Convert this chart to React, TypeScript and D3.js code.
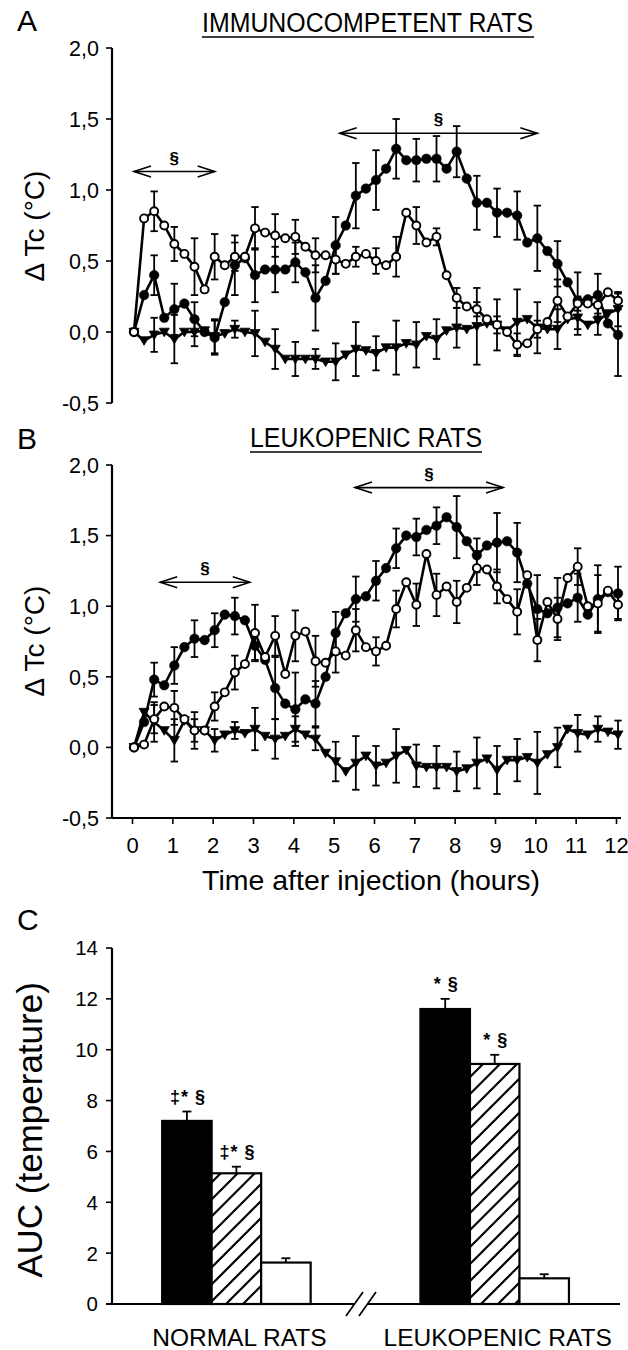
import React from "react";
import * as d3 from "d3";

// ---------------- DATA ----------------
const TIME = [0, 0.25, 0.5, 0.75, 1, 1.25, 1.5, 1.75, 2, 2.25, 2.5, 2.75, 3, 3.25, 3.5, 3.75, 4, 4.25, 4.5, 4.75, 5, 5.25, 5.5, 5.75, 6, 6.25, 6.5, 6.75, 7, 7.25, 7.5, 7.75, 8, 8.25, 8.5, 8.75, 9, 9.25, 9.5, 9.75, 10, 10.25, 10.5, 10.75, 11, 11.25, 11.5, 11.75, 12];

// Panel A – immunocompetent rats
const A_FILLED = [0.00, 0.26, 0.40, 0.10, 0.16, 0.20, 0.09, 0.00, -0.04, 0.21, 0.47, 0.52, 0.40, 0.44, 0.44, 0.44, 0.49, 0.42, 0.24, 0.36, 0.61, 0.75, 0.96, 1.01, 1.07, 1.15, 1.29, 1.21, 1.21, 1.22, 1.22, 1.15, 1.27, 1.08, 0.91, 0.91, 0.84, 0.84, 0.82, 0.63, 0.66, 0.57, 0.48, 0.35, 0.22, 0.23, 0.26, 0.06, -0.02];
const A_FILLED_ERR = [0, 0, 0.14, 0, 0.18, 0, 0.12, 0, 0.12, 0, 0.21, 0, 0.19, 0, 0.16, 0, 0.14, 0, 0.23, 0, 0.20, 0, 0.23, 0, 0.21, 0, 0.21, 0, 0.15, 0, 0.16, 0, 0.18, 0, 0.19, 0, 0.17, 0, 0.17, 0, 0.23, 0, 0.16, 0, 0.20, 0, 0.15, 0, 0.29];
const A_OPEN = [0.00, 0.80, 0.85, 0.75, 0.62, 0.55, 0.46, 0.30, 0.53, 0.47, 0.53, 0.53, 0.73, 0.70, 0.68, 0.66, 0.67, 0.60, 0.54, 0.54, 0.51, 0.48, 0.53, 0.55, 0.50, 0.47, 0.53, 0.84, 0.75, 0.63, 0.67, 0.40, 0.24, 0.18, 0.16, 0.09, 0.05, 0.00, -0.09, -0.08, 0.02, 0.07, 0.22, 0.11, 0.20, 0.20, 0.19, 0.28, 0.22];
const A_OPEN_ERR = [0, 0, 0.14, 0, 0.12, 0, 0.20, 0, 0.16, 0, 0.10, 0, 0.15, 0, 0.15, 0, 0.12, 0, 0.12, 0, 0.10, 0, 0.07, 0, 0.09, 0, 0.14, 0, 0.13, 0, 0.06, 0, 0.07, 0, 0.05, 0, 0.06, 0, 0.08, 0, 0.06, 0, 0.15, 0, 0.05, 0, 0.06, 0, 0.06];
const A_TRI = [0.00, -0.06, -0.02, 0.00, -0.05, 0.00, 0.00, 0.01, -0.03, -0.01, 0.02, 0.00, -0.01, -0.07, -0.12, -0.19, -0.19, -0.19, -0.19, -0.21, -0.21, -0.16, -0.12, -0.13, -0.15, -0.11, -0.11, -0.08, -0.09, -0.03, -0.05, 0.01, 0.03, 0.02, 0.04, 0.06, 0.05, 0.01, 0.07, 0.09, 0.03, 0.02, 0.02, 0.09, 0.10, 0.05, 0.08, 0.13, 0.16];
const A_TRI_ERR = [0, 0, 0.12, 0, 0.17, 0, 0.10, 0, 0.12, 0, 0.06, 0, 0.16, 0, 0.14, 0, 0.12, 0, 0.07, 0, 0.13, 0, 0.19, 0, 0.12, 0, 0.19, 0, 0.16, 0, 0.14, 0, 0.14, 0, 0.27, 0, 0.18, 0, 0.23, 0, 0.18, 0, 0.14, 0, 0.12, 0, 0.10, 0, 0.12];

// Panel B – leukopenic rats
const B_FILLED = [0.00, 0.18, 0.48, 0.44, 0.58, 0.71, 0.77, 0.76, 0.83, 0.94, 0.93, 0.90, 0.72, 0.62, 0.42, 0.31, 0.27, 0.34, 0.31, 0.50, 0.81, 0.95, 1.05, 1.07, 1.18, 1.27, 1.41, 1.50, 1.49, 1.54, 1.57, 1.63, 1.56, 1.46, 1.36, 1.43, 1.45, 1.46, 1.38, 1.16, 0.98, 0.95, 0.99, 1.02, 1.06, 0.94, 1.05, 1.10, 1.09];
const B_FILLED_ERR = [0, 0, 0.12, 0, 0.13, 0, 0.13, 0, 0.12, 0, 0.13, 0, 0.10, 0, 0.22, 0, 0.26, 0, 0.16, 0, 0.15, 0, 0.16, 0, 0.14, 0, 0.14, 0, 0.13, 0, 0.13, 0, 0.22, 0, 0.12, 0, 0.21, 0, 0.21, 0, 0.24, 0, 0.21, 0, 0.17, 0, 0.24, 0, 0.19];
const B_OPEN = [0.00, 0.02, 0.20, 0.29, 0.28, 0.20, 0.12, 0.12, 0.29, 0.39, 0.53, 0.59, 0.81, 0.64, 0.79, 0.52, 0.79, 0.82, 0.61, 0.60, 0.68, 0.65, 0.83, 0.71, 0.68, 0.72, 0.98, 1.17, 1.01, 1.37, 1.08, 1.14, 1.03, 1.13, 1.27, 1.26, 1.14, 1.05, 0.96, 1.22, 0.76, 1.03, 0.91, 1.20, 1.28, 1.00, 1.02, 1.11, 1.01];
const B_OPEN_ERR = [0, 0, 0.10, 0, 0.12, 0, 0.08, 0, 0.10, 0, 0.12, 0, 0.20, 0, 0.14, 0, 0.18, 0, 0.18, 0, 0.15, 0, 0.15, 0, 0.10, 0, 0.13, 0, 0.15, 0, 0.15, 0, 0.15, 0, 0.12, 0, 0.12, 0, 0.16, 0, 0.15, 0, 0.15, 0, 0.13, 0, 0.20, 0, 0.10];
const B_TRI = [0.00, 0.25, 0.18, 0.12, 0.05, 0.19, 0.12, 0.12, 0.05, 0.09, 0.12, 0.10, 0.13, 0.08, 0.06, 0.08, 0.13, 0.09, 0.06, -0.04, -0.10, -0.17, -0.11, -0.06, -0.13, -0.11, -0.06, -0.02, -0.13, -0.14, -0.14, -0.14, -0.17, -0.15, -0.11, -0.08, -0.16, -0.09, -0.09, -0.07, -0.11, -0.05, 0.00, 0.13, 0.10, 0.09, 0.13, 0.11, 0.09];
const B_TRI_ERR = [0, 0, 0.14, 0, 0.15, 0, 0.13, 0, 0.08, 0, 0.06, 0, 0.15, 0, 0.14, 0, 0.09, 0, 0.08, 0, 0.14, 0, 0.19, 0, 0.14, 0, 0.19, 0, 0.15, 0, 0.15, 0, 0.14, 0, 0.18, 0, 0.17, 0, 0.15, 0, 0.22, 0, 0.14, 0, 0.13, 0, 0.09, 0, 0.10];

// significance arrows: [from hour, to hour, level]
const ARROWS_A = [[0, 2.0, 1.13], [5.1, 10.0, 1.40]];
const ARROWS_B = [[0.65, 2.87, 1.17], [5.48, 9.15, 1.84]];

const Y_TICKS = [-0.5, 0, 0.5, 1.0, 1.5, 2.0];
const X_TICKS = [0, 1, 2, 3, 4, 5, 6, 7, 8, 9, 10, 11, 12];

// Panel C – AUC
const GROUPS = ["NORMAL RATS", "LEUKOPENIC RATS"];
const BAR_KINDS = ["black", "hatch", "white"];
const AUC_BLACK = [7.2, 11.6];
const AUC_BLACK_ERR = [0.37, 0.4];
const AUC_HATCH = [5.14, 9.44];
const AUC_HATCH_ERR = [0.26, 0.36];
const AUC_WHITE = [1.63, 1.01];
const AUC_WHITE_ERR = [0.17, 0.16];
const ANNOT_BLACK = ["‡* §", "* §"];
const ANNOT_HATCH = ["‡* §", "* §"];
const C_TICKS = [0, 2, 4, 6, 8, 10, 12, 14];

// ---------------- LAYOUT ----------------
const W = 628;
const H = 1350;
const FONT = "'Liberation Sans', Arial, Helvetica, sans-serif";
const AXIS_X = 112;

const x = d3.scaleLinear().domain([0, 12]).range([134, 618]);
const yA = d3.scaleLinear().domain([-0.5, 2]).range([403, 48]);
const yB = d3.scaleLinear().domain([-0.5, 2]).range([818, 465]);
const yC = d3.scaleLinear().domain([0, 14]).range([1304, 948]);
const groupX = d3.scalePoint<string>().domain(GROUPS).range([236.4, 494.7]);
const subX = d3.scaleBand<string>().domain(BAR_KINDS).range([-74.25, 74.25]);

const fmt = (v: number) => d3.format(".1f")(v).replace(".", ",").replace("\u2212", "-");

type Kind = "filled" | "open" | "tri";

function Series({ vals, errs, y, kind }: { vals: number[]; errs: number[]; y: d3.ScaleLinear<number, number>; kind: Kind }) {
  const line = d3
    .line<number>()
    .x((_, i) => x(TIME[i]))
    .y((v) => y(v));
  const tri = "M-5,-3.8 L5,-3.8 L0,4.8 Z";
  return (
    <g>
      {vals.map((v, i) =>
        errs[i] > 0 ? (
          <g key={"e" + i} stroke="#000" strokeWidth={1.8}>
            <line x1={x(TIME[i])} x2={x(TIME[i])} y1={y(v - errs[i])} y2={y(v + errs[i])} />
            <line x1={x(TIME[i]) - 3.7} x2={x(TIME[i]) + 3.7} y1={y(v + errs[i])} y2={y(v + errs[i])} />
            <line x1={x(TIME[i]) - 3.7} x2={x(TIME[i]) + 3.7} y1={y(v - errs[i])} y2={y(v - errs[i])} />
          </g>
        ) : null
      )}
      <path d={line(vals) || ""} fill="none" stroke="#000" strokeWidth={2.6} strokeLinejoin="round" />
      {vals.map((v, i) =>
        kind === "tri" ? (
          <path key={"m" + i} d={tri} transform={`translate(${x(TIME[i])},${y(v)})`} fill="#000" stroke="#000" strokeWidth={0.8} />
        ) : (
          <circle
            key={"m" + i}
            cx={x(TIME[i])}
            cy={y(v)}
            r={kind === "filled" ? 4.8 : 4.0}
            fill={kind === "filled" ? "#000" : "#fff"}
            stroke="#000"
            strokeWidth={kind === "filled" ? 0.5 : 1.9}
          />
        )
      )}
    </g>
  );
}

function Arrow({ a, y }: { a: number[]; y: d3.ScaleLinear<number, number> }) {
  const x1 = x(a[0]);
  const x2 = x(a[1]);
  const yy = y(a[2]);
  const hl = 17;
  const hw = 5.5;
  return (
    <g stroke="#000" strokeWidth={1.6} fill="none">
      <line x1={x1} x2={x2} y1={yy} y2={yy} />
      <path d={`M${x1 + hl},${yy - hw} L${x1},${yy} L${x1 + hl},${yy + hw}`} />
      <path d={`M${x2 - hl},${yy - hw} L${x2},${yy} L${x2 - hl},${yy + hw}`} />
      <text x={(x1 + x2) / 2} y={yy - 8} textAnchor="middle" fontSize={17} fontWeight="bold" fill="#000" stroke="none" fontFamily={FONT}>
        §
      </text>
    </g>
  );
}

function YAxis({ y, ticks, top, bottom, format }: { y: d3.ScaleLinear<number, number>; ticks: number[]; top: number; bottom: number; format: (v: number) => string }) {
  return (
    <g>
      <line x1={AXIS_X} x2={AXIS_X} y1={top} y2={bottom} stroke="#000" strokeWidth={2.2} />
      {ticks.map((t) => (
        <g key={t}>
          <line x1={AXIS_X - 6} x2={AXIS_X} y1={y(t)} y2={y(t)} stroke="#000" strokeWidth={1.6} />
          <text x={AXIS_X - 13} y={y(t)} dy="0.36em" textAnchor="end" fontSize={21.5} fontFamily={FONT}>
            {format(t)}
          </text>
        </g>
      ))}
    </g>
  );
}

function TimePanel({ y, filled, filledErr, open, openErr, tri, triErr, arrows }: any) {
  return (
    <g>
      <YAxis y={y} ticks={Y_TICKS} top={y(2)} bottom={y(-0.5)} format={fmt} />
      {arrows.map((a: number[], i: number) => (
        <Arrow key={i} a={a} y={y} />
      ))}
      <Series vals={tri} errs={triErr} y={y} kind="tri" />
      <Series vals={filled} errs={filledErr} y={y} kind="filled" />
      <Series vals={open} errs={openErr} y={y} kind="open" />
    </g>
  );
}

function BarPanel() {
  const series = [
    { kind: "black", vals: AUC_BLACK, errs: AUC_BLACK_ERR, annot: ANNOT_BLACK },
    { kind: "hatch", vals: AUC_HATCH, errs: AUC_HATCH_ERR, annot: ANNOT_HATCH },
    { kind: "white", vals: AUC_WHITE, errs: AUC_WHITE_ERR, annot: null as string[] | null },
  ];
  const bw = subX.bandwidth();
  const y0 = yC(0);
  return (
    <g>
      <defs>
        <pattern id="hatch" patternUnits="userSpaceOnUse" width={17} height={17}>
          <rect width={17} height={17} fill="#fff" />
          <path d="M0,17 L17,0 M-5,5 L5,-5 M12,22 L22,12" stroke="#000" strokeWidth={2.2} />
        </pattern>
      </defs>
      {/* y axis */}
      <line x1={AXIS_X} x2={AXIS_X} y1={yC(14)} y2={y0} stroke="#000" strokeWidth={2.2} />
      {C_TICKS.map((t) => (
        <g key={t}>
          <line x1={AXIS_X - 6} x2={AXIS_X} y1={yC(t)} y2={yC(t)} stroke="#000" strokeWidth={1.6} />
          <text x={AXIS_X - 14} y={yC(t)} dy="0.36em" textAnchor="end" fontSize={20.5} fontFamily={FONT}>
            {t}
          </text>
        </g>
      ))}
      {/* bars */}
      {GROUPS.map((g, gi) =>
        series.map((s) => {
          const bx = (groupX(g) as number) + (subX(s.kind) as number);
          const top = yC(s.vals[gi]);
          const et = yC(s.vals[gi] + s.errs[gi]);
          const cx = bx + bw / 2;
          return (
            <g key={g + s.kind}>
              <line x1={cx} x2={cx} y1={top} y2={et} stroke="#000" strokeWidth={1.8} />
              <line x1={cx - 4.5} x2={cx + 4.5} y1={et} y2={et} stroke="#000" strokeWidth={1.8} />
              <rect
                x={bx}
                y={top}
                width={bw}
                height={y0 - top}
                fill={s.kind === "black" ? "#000" : s.kind === "hatch" ? "url(#hatch)" : "#fff"}
                stroke="#000"
                strokeWidth={2.2}
              />
              {s.annot ? (
                <text x={cx + 1} y={et - 9} textAnchor="middle" fontSize={18} fontWeight="bold" letterSpacing={1} fontFamily={FONT}>
                  {s.annot[gi]}
                </text>
              ) : null}
            </g>
          );
        })
      )}
      {/* broken baseline */}
      <line x1={AXIS_X - 6} x2={355} y1={y0} y2={y0} stroke="#000" strokeWidth={2.2} />
      <line x1={367} x2={620} y1={y0} y2={y0} stroke="#000" strokeWidth={2.2} />
      <line x1={346} x2={363} y1={y0 + 12} y2={y0 - 12} stroke="#000" strokeWidth={1.7} />
      <line x1={359} x2={376} y1={y0 + 12} y2={y0 - 12} stroke="#000" strokeWidth={1.7} />
      {GROUPS.map((g) => (
        <text key={g} x={(groupX(g) as number) + 3} y={1346} textAnchor="middle" fontSize={24.5} fontFamily={FONT}>
          {g}
        </text>
      ))}
    </g>
  );
}

export default function App() {
  return (
    <div style={{ position: "absolute", left: 0, top: 0, width: W, height: H, background: "#fff" }}>
      <svg width={W} height={H} viewBox={`0 0 ${W} ${H}`} style={{ display: "block" }} fontFamily={FONT}>
        <rect width={W} height={H} fill="#fff" />
        {/* Panel A */}
        <text x={17} y={31} fontSize={30}>A</text>
        <text x={202} y={32} fontSize={27} textLength={331} lengthAdjust="spacingAndGlyphs">IMMUNOCOMPETENT RATS</text>
        <line x1={202} x2={534} y1={37} y2={37} stroke="#000" strokeWidth={1.6} />
        <text transform="translate(44,226) rotate(-90)" textAnchor="middle" fontSize={28}>Δ Tc (°C)</text>
        <TimePanel y={yA} filled={A_FILLED} filledErr={A_FILLED_ERR} open={A_OPEN} openErr={A_OPEN_ERR} tri={A_TRI} triErr={A_TRI_ERR} arrows={ARROWS_A} />

        {/* Panel B */}
        <text x={17} y={449} fontSize={30}>B</text>
        <text x={250} y={447} fontSize={27} textLength={232} lengthAdjust="spacingAndGlyphs">LEUKOPENIC RATS</text>
        <line x1={250} x2={482} y1={452} y2={452} stroke="#000" strokeWidth={1.6} />
        <text transform="translate(44,641) rotate(-90)" textAnchor="middle" fontSize={28}>Δ Tc (°C)</text>
        <TimePanel y={yB} filled={B_FILLED} filledErr={B_FILLED_ERR} open={B_OPEN} openErr={B_OPEN_ERR} tri={B_TRI} triErr={B_TRI_ERR} arrows={ARROWS_B} />
        {/* x axis of B */}
        <line x1={AXIS_X} x2={621} y1={818} y2={818} stroke="#000" strokeWidth={2.2} />
        {X_TICKS.map((t) => (
          <g key={t}>
            <line x1={x(t) - 1.5} x2={x(t) - 1.5} y1={818} y2={824} stroke="#000" strokeWidth={1.6} />
            <text x={x(t) - 1.5} y={853} textAnchor="middle" fontSize={22}>
              {t}
            </text>
          </g>
        ))}
        <text x={371} y={890} textAnchor="middle" fontSize={28.5}>Time after injection (hours)</text>

        {/* Panel C */}
        <text x={17} y={930} fontSize={30}>C</text>
        <text transform="translate(42,1130) rotate(-90)" textAnchor="middle" fontSize={35}>AUC (temperature)</text>
        <BarPanel />
      </svg>
    </div>
  );
}
